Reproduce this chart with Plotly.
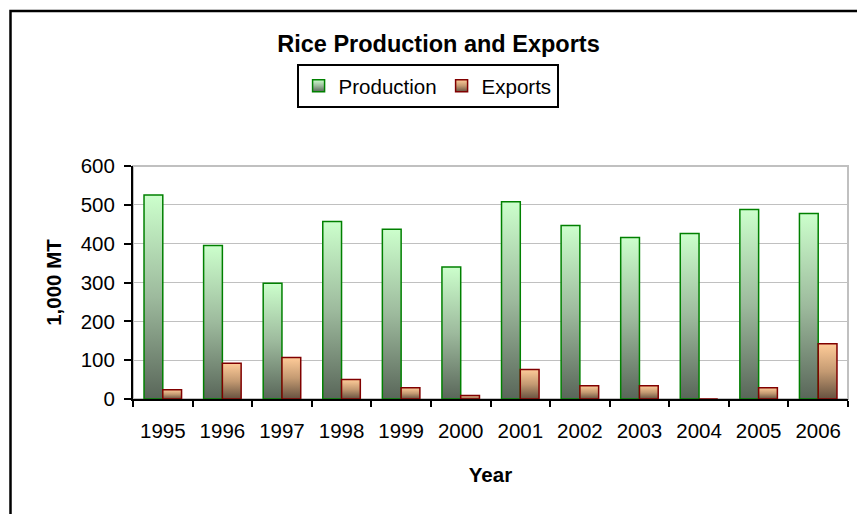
import plotly.graph_objects as go

years = ["1995", "1996", "1997", "1998", "1999", "2000", "2001", "2002", "2003", "2004", "2005", "2006"]
production = [525, 395, 298, 457, 437, 340, 508, 447, 416, 426, 488, 478]
exports = [24, 92, 107, 50, 29, 9, 76, 34, 34, 0, 29, 142]

FONT = "Liberation Sans, Arial, sans-serif"

fig = go.Figure()
fig.add_trace(go.Bar(
    x=years, y=production, name="Production",
    marker=dict(color="rgb(160,200,160)", line=dict(color="#008000", width=1.5)),
))
fig.add_trace(go.Bar(
    x=years, y=exports, name="Exports",
    marker=dict(color="rgb(205,160,120)", line=dict(color="#800000", width=1.5)),
))

fig.update_layout(
    width=857, height=514,
    margin=dict(l=133, r=9, t=166, b=115),
    paper_bgcolor="white", plot_bgcolor="white",
    font=dict(family=FONT, size=20.5, color="black"),
    barmode="group", bargap=0.37, bargroupgap=0,
    title=dict(text="Rice Production and Exports", x=438.5 / 857, xanchor="center",
               y=1 - 44 / 514, yanchor="middle", xref="container", yref="container",
               font=dict(family=FONT, size=23.5, weight="bold", color="black")),
    legend=dict(orientation="h", x=0.412, xanchor="center", y=1.438, yanchor="top",
                bordercolor="black", borderwidth=2, bgcolor="white",
                font=dict(family=FONT, size=20.5, color="black"),
                itemclick=False, traceorder="normal"),
    showlegend=True,
)

fig.update_xaxes(
    type="category", tickson="boundaries", ticks="outside", ticklen=6, tickwidth=2,
    tickcolor="black", showline=True, linecolor="black", linewidth=2, showgrid=False,
    ticklabelstandoff=12,
    title=dict(text="Year", font=dict(family=FONT, size=20.5, weight="bold"), standoff=27),
)
fig.update_yaxes(
    range=[0, 600], dtick=100, ticks="outside", ticklen=7, tickwidth=2, tickcolor="black",
    showline=True, linecolor="black", linewidth=2, showgrid=True, gridcolor="#c0c0c0",
    gridwidth=1, zeroline=False, ticklabelstandoff=5,
    title=dict(text="1,000 MT", font=dict(family=FONT, size=20.5, weight="bold"), standoff=14),
)

# plot-area border (grey) and outer chart border (black)
fig.add_shape(type="rect", xref="paper", yref="paper", x0=0, x1=1, y0=0, y1=1,
              line=dict(color="#c0c0c0", width=2), layer="below")
fig.add_shape(type="rect", xref="paper", yref="paper", x0=(10.5 - 133) / 715, x1=2,
              y0=-2, y1=(399 - 11) / 233, line=dict(color="black", width=2.5), layer="below")

post = r"""
document.documentElement.style.margin = '0';
document.body.style.margin = '0';
document.body.style.overflow = 'hidden';
var gd = document.getElementById('{plot_id}');
var NS = 'http://www.w3.org/2000/svg';
function mk(svg, id, stops) {
  if (document.getElementById(id)) return;
  var defs = svg.querySelector('defs');
  if (!defs) { defs = document.createElementNS(NS, 'defs'); svg.insertBefore(defs, svg.firstChild); }
  var g = document.createElementNS(NS, 'linearGradient');
  g.setAttribute('id', id);
  g.setAttribute('x1', '0'); g.setAttribute('y1', '0');
  g.setAttribute('x2', '0'); g.setAttribute('y2', '1');
  stops.forEach(function (s) {
    var st = document.createElementNS(NS, 'stop');
    st.setAttribute('offset', s[0]); st.setAttribute('stop-color', s[1]);
    g.appendChild(st);
  });
  defs.appendChild(g);
}
function apply() {
  var svg = gd.querySelector('svg.main-svg');
  if (!svg) return;
  mk(svg, 'gProd', [['0', '#ccffcc'], ['0.5', '#9dba9d'], ['1', '#596659']]);
  mk(svg, 'gExp', [['0', '#ffcc99'], ['0.5', '#c49a72'], ['1', '#665240']]);
  var ids = ['gProd', 'gExp'];
  gd.querySelectorAll('.barlayer .trace.bars').forEach(function (t, i) {
    t.querySelectorAll('.point path').forEach(function (p) { p.style.fill = 'url(#' + ids[i] + ')'; });
  });
  gd.querySelectorAll('.legend .traces').forEach(function (t, i) {
    t.querySelectorAll('.legendpoints path').forEach(function (p) { p.style.fill = 'url(#' + ids[i] + ')'; });
  });
}
apply();
gd.on('plotly_afterplot', apply);
"""

fig.write_html("out.html", post_script=post, config={"displayModeBar": False})
